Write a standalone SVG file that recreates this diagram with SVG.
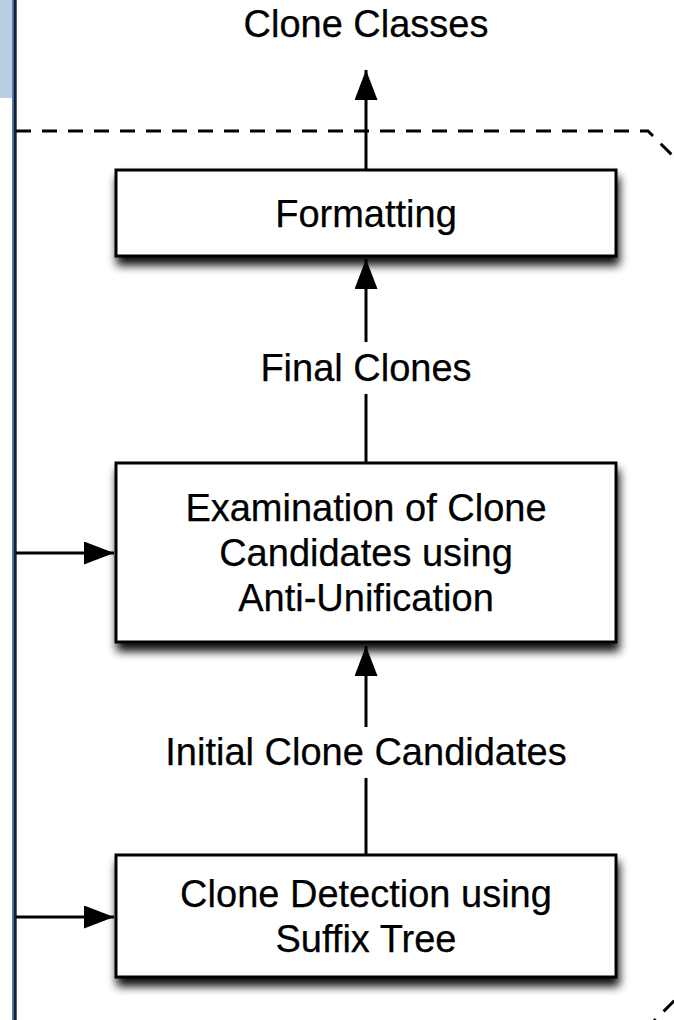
<svg xmlns="http://www.w3.org/2000/svg" width="674" height="1020" viewBox="0 0 674 1020">
  <style>
    .box { fill: #ffffff; stroke: #000000; stroke-width: 3; }
    .lbl { font-family: "Liberation Sans", Arial, Helvetica, sans-serif; font-size: 38px; fill: #000000; stroke: #000000; stroke-width: 0.25; text-anchor: middle; }
    .edge { stroke: #000000; stroke-width: 3; fill: none; }
    .dash { stroke: #000000; stroke-width: 3; fill: none; stroke-dasharray: 15 11; }
  </style>
  <defs>
    <filter id="shadow" x="-10%" y="-20%" width="125%" height="160%">
      <feGaussianBlur in="SourceAlpha" stdDeviation="5"/>
      <feOffset dx="2" dy="8" result="blur"/>
      <feComponentTransfer><feFuncA type="linear" slope="0.95"/></feComponentTransfer>
      <feMerge><feMergeNode/><feMergeNode in="SourceGraphic"/></feMerge>
    </filter>
    <marker id="head" viewBox="0 0 30 23" refX="30" refY="11.5" markerWidth="30" markerHeight="23" markerUnits="userSpaceOnUse" orient="auto">
      <path d="M0,0 L30,11.5 L0,23 Z" fill="#000000"/>
    </marker>
  </defs>

  <rect width="674" height="1020" fill="#ffffff"/>

  <!-- side panel and rule on the left -->
  <g id="side">
    <rect x="0" y="0" width="13" height="98" fill="#b9cde5"/>
    <rect x="12" y="0" width="1.6" height="1020" fill="#4f81bd"/>
    <rect x="13.5" y="0" width="3.2" height="1020" fill="#10203a"/>
  </g>

  <!-- dashed system boundary -->
  <path id="boundary" class="dash" d="M16,131 H648 L700,183 V975 L650,1025"/>

  <g id="connectors">
    <line class="edge" x1="366" y1="170" x2="366" y2="70" marker-end="url(#head)"/>
    <line class="edge" x1="366" y1="342" x2="366" y2="259" marker-end="url(#head)"/>
    <line class="edge" x1="366" y1="463" x2="366" y2="394"/>
    <line class="edge" x1="366" y1="727" x2="366" y2="646" marker-end="url(#head)"/>
    <line class="edge" x1="366" y1="855" x2="366" y2="778"/>
    <line class="edge" x1="16" y1="553" x2="114" y2="553" marker-end="url(#head)"/>
    <line class="edge" x1="16" y1="917" x2="114" y2="917" marker-end="url(#head)"/>
  </g>

  <g id="output">
    <text class="lbl" x="366" y="37">Clone Classes</text>
  </g>

  <g id="formatting">
    <rect class="box" x="116" y="170" width="500" height="86" filter="url(#shadow)"/>
    <text class="lbl" x="366" y="227">Formatting</text>
  </g>

  <g id="final-clones">
    <text class="lbl" x="366" y="381">Final Clones</text>
  </g>

  <g id="examination">
    <rect class="box" x="116" y="463" width="500" height="179" filter="url(#shadow)"/>
    <text class="lbl" x="366" y="521">Examination of Clone</text>
    <text class="lbl" x="366" y="566">Candidates using</text>
    <text class="lbl" x="366" y="611">Anti-Unification</text>
  </g>

  <g id="initial-candidates">
    <text class="lbl" x="366" y="765">Initial Clone Candidates</text>
  </g>

  <g id="detection">
    <rect class="box" x="116" y="855" width="500" height="122" filter="url(#shadow)"/>
    <text class="lbl" x="366" y="907">Clone Detection using</text>
    <text class="lbl" x="366" y="952">Suffix Tree</text>
  </g>
</svg>
